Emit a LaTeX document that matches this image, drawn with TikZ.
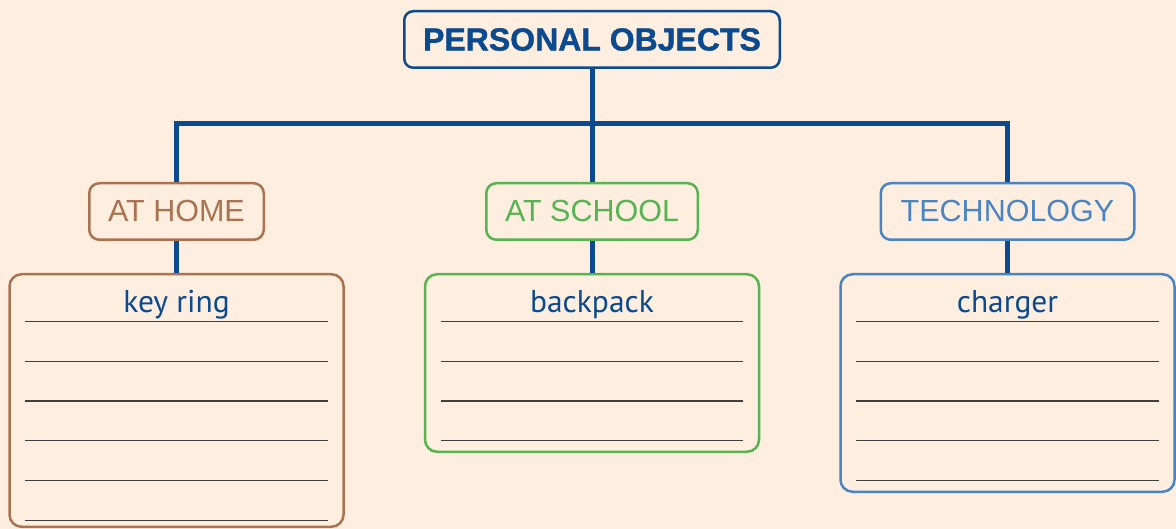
\documentclass[tikz,border=0pt]{standalone}
\usepackage{fontspec}
\setmainfont{Liberation Sans}
\newfontfamily\headfont[FakeBold=1.2]{Liberation Sans Bold}
\newfontfamily\listfont{PT Sans}
\definecolor{paper}{RGB}{253,238,224}
\definecolor{navy}{RGB}{11,74,142}
\definecolor{homebrown}{RGB}{170,114,78}
\definecolor{schoolgreen}{RGB}{86,181,80}
\definecolor{techblue}{RGB}{74,132,196}
\definecolor{rulegray}{RGB}{62,62,62}

\begin{document}
\begin{tikzpicture}[x=1pt, y=-1pt,
		topic/.style={draw=navy, text=navy, line width=2.5pt, rounded corners=9pt, inner sep=0pt,
			minimum width=375.5pt, minimum height=56.5pt, font=\headfont\fontsize{32}{38}\selectfont},
		group/.style={draw=#1, text=#1, line width=2.5pt, rounded corners=10pt, inner sep=0pt,
			minimum height=56.5pt, font=\fontsize{30.5}{36}\selectfont},
		listbox/.style={draw=#1, line width=2.5pt, rounded corners=12pt, inner sep=0pt,
			minimum width=334pt, anchor=north},
		itemtext/.style={text=navy, anchor=base, inner sep=0pt, font=\listfont\fontsize{31.5}{36}\selectfont},
		stem/.style={draw=navy, line width=5pt},
		rule/.style={draw=rulegray, line width=1.3pt}]
		\fill[paper] (0,0) rectangle (1176,529);
		\useasboundingbox (0,0) rectangle (1176,529);

		% tree: title, three groups and their lists
		\node[topic] (title) at (592,39.5) {\raisebox{-1pt}{PERSONAL OBJECTS}};
		\coordinate (bar) at (592,124);
		\node[group=homebrown, minimum width=174.5pt] (home) at (176.5,211.5) {AT HOME};
		\node[group=schoolgreen, minimum width=211.5pt] (school) at (592,211.5) {AT SCHOOL};
		\node[group=techblue, minimum width=253.5pt] (tech) at (1007.5,211.5) {TECHNOLOGY};

		\node[listbox=homebrown, minimum height=252.5pt] (homelist) at (176.5,273) {};
		\node[listbox=schoolgreen, minimum height=177.5pt] (schoollist) at (592,273) {};
		\node[listbox=techblue, minimum height=217.5pt] (techlist) at (1007.5,273) {};

		\node[itemtext] at ([yshift=-39.7pt]homelist.north) {key ring};
		\node[itemtext] at ([yshift=-39.7pt]schoollist.north) {backpack};
		\node[itemtext] at ([yshift=-39.7pt]techlist.north) {charger};

		\draw[stem] (title.south) -- (school.north);
		\draw[stem] (home.north) |- (bar) -| (tech.north);
		\draw[stem] (home) -- (homelist);
		\draw[stem] (school) -- (schoollist);
		\draw[stem] (tech) -- (techlist);

		% writing lines
		\foreach \lst/\n in {homelist/5, schoollist/3, techlist/4}
			\foreach \k in {0,...,\n}
				\draw[rule] ([xshift=17pt, yshift=-48.7pt-\k*39.7pt]\lst.north west)
					-- ([xshift=-17pt, yshift=-48.7pt-\k*39.7pt]\lst.north east);
	\end{tikzpicture}
\end{document}
